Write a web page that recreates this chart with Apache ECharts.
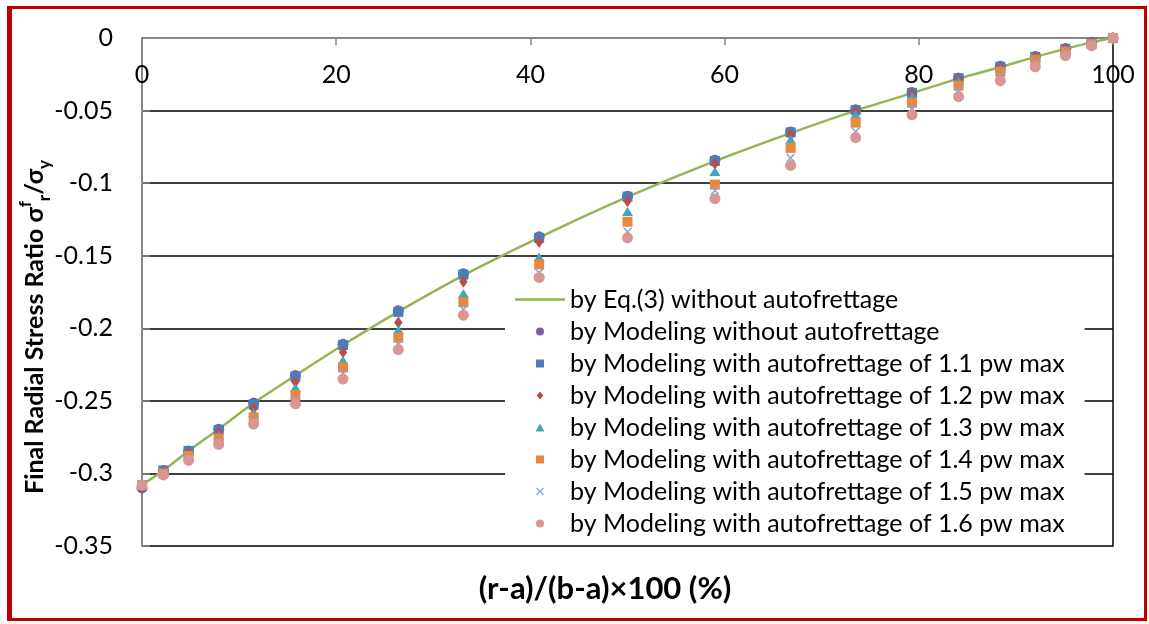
<!DOCTYPE html>
<html>
<head>
<meta charset="utf-8">
<script src="https://cdn.jsdelivr.net/npm/echarts@6/dist/echarts.min.js"></script>
<style>
  html, body { margin: 0; padding: 0; background: #fff; }
  #chart { width: 1149px; height: 624px; }
  #frame {
    position: absolute; left: 7px; top: 6px; right: 2px; bottom: 3px;
    border-style: solid; border-color: #c00000;
    border-width: 3px 3px 3px 5px;
    pointer-events: none;
  }
</style>
</head>
<body>
<div id="chart"></div>
<div id="frame"></div>
<script>
// Normalised radial position (r-a)/(b-a)x100, in %
const positions = [0, 2.2, 4.8, 7.9, 11.5, 15.8, 20.7, 26.4, 33.1, 40.9, 50, 59, 66.8, 73.5, 79.3, 84.1, 88.4, 92, 95.1, 97.8, 100];

// Final radial stress ratio sigma_r^f / sigma_y
const eq3NoAutofrettage = [-0.308, -0.298, -0.2845, -0.2695, -0.2515, -0.2325, -0.2115, -0.1885, -0.1635, -0.1375, -0.1095, -0.0848, -0.0655, -0.0500, -0.0380, -0.0280, -0.0200, -0.0130, -0.0075, -0.0030, 0];
const modelNoAutofrettage = [-0.310, -0.298, -0.2845, -0.2695, -0.2515, -0.2325, -0.2110, -0.1880, -0.1625, -0.1370, -0.1090, -0.0843, -0.0648, -0.0495, -0.0375, -0.0275, -0.0195, -0.0128, -0.0073, -0.0030, 0];
const model11 = [-0.308, -0.298, -0.2845, -0.2700, -0.2525, -0.2333, -0.2115, -0.1887, -0.1630, -0.1377, -0.1093, -0.0847, -0.0650, -0.0497, -0.0378, -0.0277, -0.0198, -0.0130, -0.0075, -0.0032, 0];
const model12 = [-0.308, -0.299, -0.2860, -0.2720, -0.2555, -0.2370, -0.2165, -0.1960, -0.1680, -0.1405, -0.1125, -0.0866, -0.0666, -0.0506, -0.0386, -0.0283, -0.0203, -0.0133, -0.0078, -0.0034, 0];
const model13 = [-0.308, -0.299, -0.2870, -0.2735, -0.2580, -0.2410, -0.2220, -0.2010, -0.1760, -0.1510, -0.1195, -0.0920, -0.0700, -0.0528, -0.0404, -0.0294, -0.0210, -0.0138, -0.0082, -0.0037, 0];
const model14 = [-0.308, -0.300, -0.2880, -0.2760, -0.2615, -0.2460, -0.2270, -0.2065, -0.1820, -0.1560, -0.1266, -0.1010, -0.0757, -0.0583, -0.0446, -0.0329, -0.0232, -0.0150, -0.0094, -0.0042, 0];
const model15 = [-0.308, -0.300, -0.2895, -0.2780, -0.2640, -0.2490, -0.2310, -0.2110, -0.1870, -0.1617, -0.1335, -0.1050, -0.0826, -0.0645, -0.0488, -0.0360, -0.0260, -0.0170, -0.0105, -0.0047, 0];
const model16 = [-0.308, -0.301, -0.2910, -0.2800, -0.2660, -0.2520, -0.2350, -0.2147, -0.1910, -0.1650, -0.1377, -0.1107, -0.0878, -0.0687, -0.0529, -0.0404, -0.0294, -0.0198, -0.0122, -0.0053, 0];

const seriesNames = [
  'by Eq.(3) without autofrettage',
  'by Modeling without autofrettage',
  'by Modeling with autofrettage of 1.1 pw max',
  'by Modeling with autofrettage of 1.2 pw max',
  'by Modeling with autofrettage of 1.3 pw max',
  'by Modeling with autofrettage of 1.4 pw max',
  'by Modeling with autofrettage of 1.5 pw max',
  'by Modeling with autofrettage of 1.6 pw max'
];

const FONT = 'Lato, "DejaVu Sans", sans-serif';

// Marker shapes as paths so they keep their proportions in the legend too
const SQUARE = 'path://M0,0L10,0L10,10L0,10Z';
const DIAMOND = 'path://M5,0L10,6L5,12L0,6Z';
const TRIANGLE = 'path://M5,0L10.5,10L-0.5,10Z';
const CROSS = 'path://M0,1.2L1.2,0L5,3.8L8.8,0L10,1.2L6.2,5L10,8.8L8.8,10L5,6.2L1.2,10L0,8.8L3.8,5Z';
const LINE_ICON = 'path://M0,0L50,0L50,2.5L0,2.5Z';

const pair = (ys) => positions.map((x, i) => [x, ys[i]]);

const markerSeries = [
  { data: modelNoAutofrettage, color: '#7a5fa0', symbol: 'circle', size: 11 },
  { data: model11, color: '#4a7ebb', symbol: SQUARE, size: 10 },
  { data: model12, color: '#be4b48', symbol: DIAMOND, size: [10, 12] },
  { data: model13, color: '#3fa6c0', symbol: TRIANGLE, size: [11, 10] },
  { data: model14, color: '#e8883f', symbol: SQUARE, size: 10 },
  { data: model15, color: '#8aa6d8', symbol: CROSS, size: 9 },
  { data: model16, color: '#d99694', symbol: 'circle', size: 11 }
];

const chart = echarts.init(document.getElementById('chart'), null, { renderer: 'canvas' });

const series = [{
  name: seriesNames[0],
  type: 'line',
  data: pair(eq3NoAutofrettage),
  smooth: 0.3,
  symbol: 'none',
  lineStyle: { color: '#93b553', width: 2.5 },
  itemStyle: { color: '#93b553' },
  z: 2
}].concat(markerSeries.map((s, i) => ({
  name: seriesNames[i + 1],
  type: 'scatter',
  data: pair(s.data),
  symbol: s.symbol,
  symbolSize: s.size,
  symbolKeepAspect: true,
  itemStyle: { color: s.color, opacity: 1 },
  z: 3 + i
})));

const legendData = seriesNames.map((name, i) => {
  if (i === 0) return { name: name, icon: LINE_ICON };
  return { name: name, icon: markerSeries[i - 1].symbol };
});

chart.setOption({
  animation: false,
  textStyle: { fontFamily: FONT },
  grid: { left: 142, top: 38, right: 36, bottom: 78 },
  xAxis: {
    type: 'value',
    position: 'top',
    min: 0, max: 100, interval: 20,
    axisLine: { onZero: false, lineStyle: { color: '#868686', width: 2 } },
    axisTick: { inside: true, length: 7, lineStyle: { color: '#868686', width: 1.5 } },
    axisLabel: { inside: true, margin: 24, color: '#000', fontSize: 25, fontFamily: FONT },
    splitLine: { show: false }
  },
  yAxis: [{
    type: 'value',
    min: -0.35, max: 0, interval: 0.05,
    axisLine: { show: true, onZero: false, lineStyle: { color: '#868686', width: 2 } },
    axisTick: { show: true, inside: true, length: 8, lineStyle: { color: '#868686', width: 1.5 } },
    axisLabel: { margin: 29, color: '#000', fontSize: 25, fontFamily: FONT },
    splitLine: { show: true, lineStyle: { color: '#000', width: 1.5 } }
  }, {
    type: 'value',
    position: 'right',
    min: -0.35, max: 0, interval: 0.05,
    axisLine: { show: true, onZero: false, lineStyle: { color: '#000', width: 1.5 } },
    axisTick: { show: false },
    axisLabel: { show: false },
    splitLine: { show: false }
  }],
  legend: {
    orient: 'vertical',
    left: 505,
    top: 281,
    padding: [6, 20, 8, 10],
    backgroundColor: '#fff',
    itemWidth: 50,
    itemHeight: 8,
    itemGap: 7,
    symbolKeepAspect: true,
    textStyle: { color: '#000', fontSize: 25, fontFamily: FONT },
    data: legendData
  },
  graphic: [{
    type: 'text',
    x: 605,
    y: 589,
    style: {
      text: '(r-a)/(b-a)×100 (%)',
      fill: '#000',
      font: 'bold 31px ' + FONT,
      align: 'center',
      verticalAlign: 'middle'
    }
  }, {
    type: 'text',
    x: 35,
    y: 327,
    rotation: Math.PI / 2,
    style: {
      text: 'Final Radial Stress Ratio σ{sup|f}{sub|r}/σ{sub|y}',
      fill: '#000',
      font: 'bold 25px ' + FONT,
      align: 'center',
      verticalAlign: 'middle',
      lineHeight: 36,
      rich: {
        sup: { fontSize: 17, fontWeight: 'bold', fontFamily: FONT, verticalAlign: 'top', lineHeight: 36, fill: '#000' },
        sub: { fontSize: 17, fontWeight: 'bold', fontFamily: FONT, verticalAlign: 'bottom', lineHeight: 36, fill: '#000' }
      }
    }
  }],
  series: series
});
</script>
</body>
</html>
